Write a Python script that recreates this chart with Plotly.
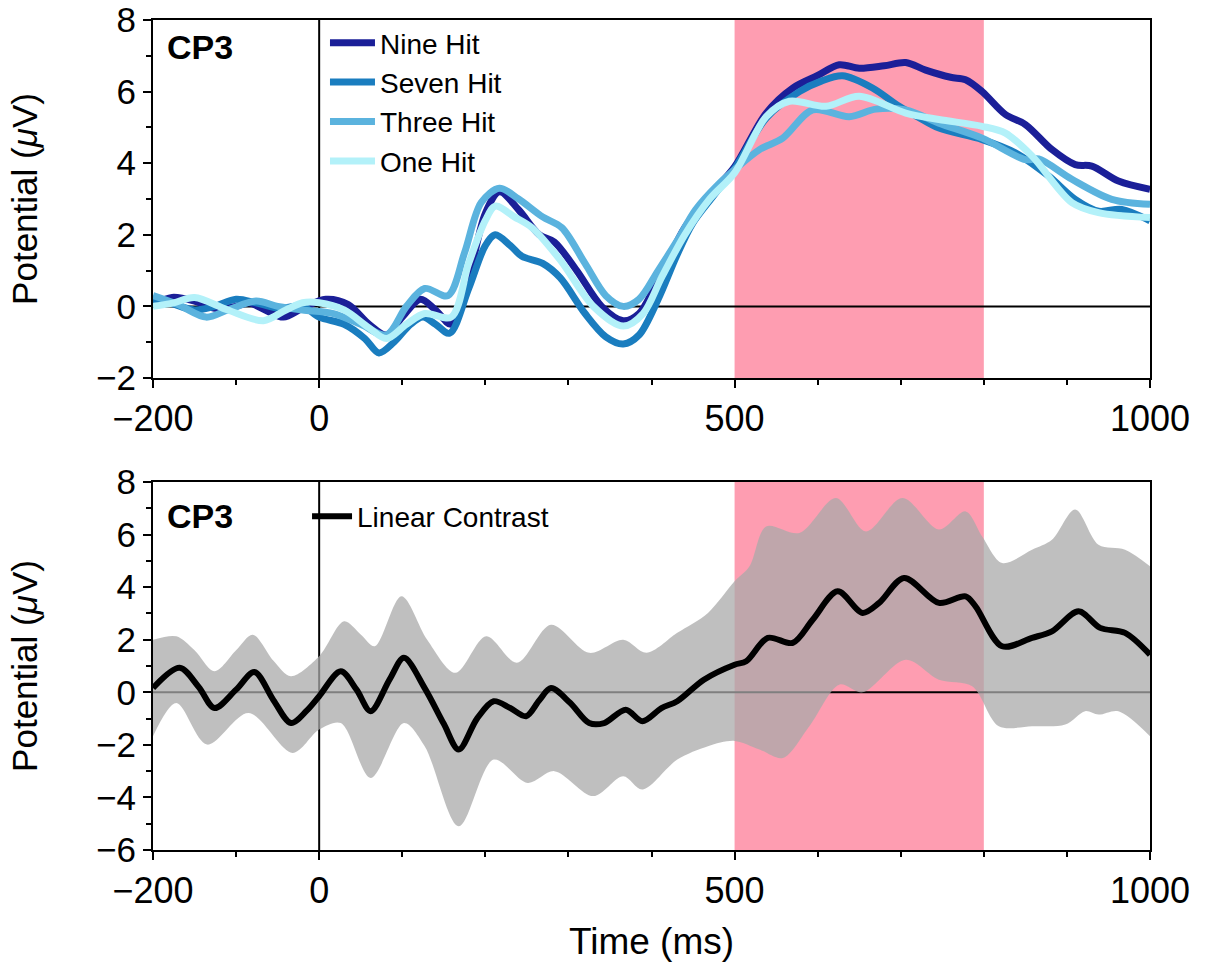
import plotly.graph_objects as go

# ---- Condition waveforms at CP3 (time in ms, potential in microvolts) ----
nine_t = [-200, -177, -150, -126, -100, -85, -65, -43, -20, 8, 35, 60, 81, 100, 122, 140, 159, 180, 200,
          217, 240, 265, 283, 310, 340, 366, 385, 403, 420, 440, 470, 500, 538, 570, 600, 626, 650, 680,
          706, 730, 760, 778, 798, 826, 850, 882, 910, 930, 962, 1000]
nine_v = [0.05, 0.25, 0.15, -0.05, 0.0, 0.1, -0.1, -0.3, -0.05, 0.2, 0.05, -0.5, -0.8, -0.3, 0.2, -0.1,
          -0.5, 0.8, 2.6, 3.2, 2.7, 2.0, 1.8, 1.0, 0.0, -0.4, -0.2, 0.5, 1.3, 2.2, 3.1, 3.9, 5.4, 6.1,
          6.45, 6.75, 6.65, 6.72, 6.81, 6.6, 6.4, 6.33, 6.0, 5.36, 5.08, 4.38, 3.96, 3.92, 3.5, 3.27]

seven_t = [-200, -180, -150, -126, -100, -76, -50, -20, 0, 30, 55, 72, 90, 110, 125, 140, 157, 180, 200,
           212, 230, 244, 269, 290, 320, 345, 366, 385, 408, 430, 449, 475, 500, 538, 578, 605, 630, 666,
           698, 720, 746, 798, 838, 878, 910, 938, 966, 1000]
seven_v = [0.2, 0.1, -0.1, 0.0, 0.2, 0.1, -0.05, 0.0, -0.3, -0.5, -0.9, -1.3, -1.0, -0.5, -0.3, -0.5,
           -0.75, 0.5, 1.7, 2.0, 1.7, 1.4, 1.2, 0.8, -0.2, -0.85, -1.05, -0.8, 0.2, 1.4, 2.3, 3.1, 3.85,
           5.26, 6.0, 6.3, 6.44, 6.1, 5.59, 5.3, 4.98, 4.66, 4.29, 3.64, 2.99, 2.66, 2.71, 2.39]

three_t = [-200, -170, -136, -110, -76, -50, -20, 17, 50, 81, 105, 127, 155, 175, 195, 217, 240, 269,
           292, 320, 345, 366, 385, 408, 430, 453, 480, 500, 530, 558, 594, 638, 670, 706, 746, 798,
           850, 866, 906, 954, 1000]
three_v = [0.3, 0.05, -0.3, -0.1, 0.15, 0.0, -0.1, -0.2, -0.5, -0.8, 0.0, 0.5, 0.3, 1.5, 2.9, 3.3, 3.0,
           2.5, 2.2, 1.2, 0.3, 0.0, 0.2, 1.0, 1.8, 2.7, 3.4, 3.82, 4.38, 4.7, 5.49, 5.3, 5.51, 5.49,
           5.12, 4.7, 4.1, 4.12, 3.55, 2.99, 2.85]

one_t = [-200, -175, -150, -110, -67, -40, -20, 0, 30, 60, 81, 105, 127, 159, 180, 200, 212, 235, 256,
         290, 330, 366, 390, 412, 440, 470, 500, 538, 566, 610, 650, 706, 746, 798, 826, 858, 906,
         938, 1000]
one_v = [0.0, 0.1, 0.25, -0.1, -0.4, -0.1, 0.1, 0.1, -0.1, -0.6, -0.9, -0.5, -0.2, -0.3, 1.2, 2.4, 2.8,
         2.5, 2.2, 1.3, 0.0, -0.55, -0.2, 0.8, 2.0, 3.0, 3.73, 5.3, 5.73, 5.59, 5.87, 5.4, 5.22, 5.03,
         4.84, 4.2, 2.9, 2.62, 2.48]

# ---- Linear contrast and its confidence band ----
lin_t = [-200, -168, -145, -126, -100, -78, -55, -34, -15, 0, 26, 45, 62, 85, 102, 127, 150, 168, 190,
         210, 230, 249, 265, 279, 302, 325, 343, 369, 389, 412, 431, 463, 500, 514, 540, 570, 594, 624,
         654, 674, 704, 746, 778, 790, 822, 858, 882, 914, 940, 970, 1000]
lin_v = [0.16, 0.93, 0.2, -0.6, 0.1, 0.77, -0.3, -1.17, -0.7, -0.15, 0.8, 0.1, -0.72, 0.5, 1.31, 0.16,
         -1.2, -2.18, -1.0, -0.34, -0.6, -0.91, -0.3, 0.16, -0.4, -1.17, -1.17, -0.66, -1.1, -0.6,
         -0.34, 0.48, 1.05, 1.18, 2.07, 1.88, 2.76, 3.84, 3.02, 3.4, 4.35, 3.4, 3.65, 3.27, 1.75, 2.07,
         2.32, 3.08, 2.45, 2.26, 1.43]

ci_hi_t = [-200, -172, -150, -126, -100, -80, -55, -34, 0, 30, 50, 67, 99, 130, 164, 201, 238, 279, 325,
           366, 394, 431, 468, 500, 518, 538, 578, 622, 658, 702, 746, 778, 798, 822, 858, 882, 910,
           938, 970, 1000]
ci_hi_v = [2.0, 2.13, 1.6, 0.8, 1.6, 2.19, 1.2, 0.61, 1.37, 2.7, 2.2, 1.75, 3.65, 2.0, 0.74, 2.13, 1.12,
           2.57, 1.5, 2.0, 1.5, 2.26, 3.02, 4.22, 4.79, 6.31, 6.06, 7.39, 6.12, 7.39, 6.19, 6.88, 5.93,
           4.92, 5.42, 5.8, 6.95, 5.61, 5.42, 4.79]

ci_lo_t = [-200, -172, -135, -85, -32, 0, 26, 62, 102, 127, 168, 210, 251, 283, 330, 366, 389, 431, 468,
           500, 530, 558, 590, 626, 654, 706, 746, 786, 818, 858, 898, 922, 938, 962, 1000]
ci_lo_v = [-1.67, -0.41, -1.99, -0.79, -2.31, -1.42, -1.17, -3.26, -1.17, -2.05, -5.1, -2.56, -3.45,
           -3.0, -3.95, -3.19, -3.7, -2.56, -2.05, -1.85, -2.18, -2.5, -1.29, 0.29, 0.0, 1.24, 0.48,
           0.23, -1.29, -1.29, -1.23, -0.72, -0.85, -0.72, -1.67]

# ---- Axis ticks and analysis window ----
x_major = [-200, 0, 500, 1000]
x_minor = [-100, 100, 200, 300, 400, 600, 700, 800, 900]
window = (500, 800)

FONT = "Liberation Sans, Arial, Helvetica, sans-serif"
PINK = "#fe9db1"

fig = go.Figure()

conditions = [
    ("Nine Hit", nine_t, nine_v, "#1b1f98"),
    ("Seven Hit", seven_t, seven_v, "#1a7dbf"),
    ("Three Hit", three_t, three_v, "#5bb3de"),
    ("One Hit", one_t, one_v, "#b3f1f9"),
]
for name, t, v, col in conditions:
    fig.add_trace(go.Scatter(
        x=t, y=v, name=name, mode="lines",
        line=dict(color=col, width=7, shape="spline", smoothing=0.9),
        xaxis="x", yaxis="y", legend="legend",
    ))

# confidence band (lower edge, then upper edge filled down to it)
fig.add_trace(go.Scatter(
    x=ci_lo_t, y=ci_lo_v, mode="lines", showlegend=False,
    line=dict(width=0, color="rgba(0,0,0,0)", shape="spline", smoothing=0.9),
    xaxis="x2", yaxis="y2", hoverinfo="skip",
))
fig.add_trace(go.Scatter(
    x=ci_hi_t, y=ci_hi_v, mode="lines", showlegend=False, fill="tonexty",
    fillcolor="rgba(170,170,170,0.75)",
    line=dict(width=0, color="rgba(0,0,0,0)", shape="spline", smoothing=0.9),
    xaxis="x2", yaxis="y2", hoverinfo="skip",
))
fig.add_trace(go.Scatter(
    x=lin_t, y=lin_v, name="Linear Contrast", mode="lines",
    line=dict(color="black", width=6, shape="spline", smoothing=0.9),
    xaxis="x2", yaxis="y2", legend="legend2",
))

# analysis window and zero reference lines, beneath the data
shapes = []
for xa, ya in (("x", "y"), ("x2", "y2")):
    shapes.append(dict(type="rect", xref=xa, yref=f"{ya} domain", x0=window[0], x1=window[1],
                       y0=0, y1=1, fillcolor=PINK, line=dict(width=0), layer="below"))
    shapes.append(dict(type="line", xref=f"{xa} domain", yref=ya, x0=0, x1=1, y0=0, y1=0,
                       line=dict(color="black", width=2), layer="below"))
    shapes.append(dict(type="line", xref=xa, yref=f"{ya} domain", x0=0, x1=0, y0=0, y1=1,
                       line=dict(color="black", width=2), layer="below"))


def xaxis_style(anchor, title=None):
    d = dict(
        anchor=anchor, domain=[0, 1], range=[-200, 1000], automargin=False,
        tickmode="array", tickvals=x_major, ticks="outside", ticklen=8, tickwidth=2,
        tickcolor="black", showline=True, linecolor="black", linewidth=2, mirror=True,
        showgrid=False, zeroline=False,
        tickfont=dict(family=FONT, size=36, color="black"),
        minor=dict(tickmode="array", tickvals=x_minor, ticks="outside", ticklen=5,
                   tickwidth=2, tickcolor="black", showgrid=False),
    )
    if title:
        d["title"] = dict(text=title, font=dict(family=FONT, size=37, color="black"), standoff=18)
    return d


def yaxis_style(anchor, domain, rng):
    return dict(
        anchor=anchor, domain=domain, range=rng, automargin=False,
        tickmode="linear", tick0=0, dtick=2, ticks="outside", ticklen=8, tickwidth=2,
        tickcolor="black", showline=True, linecolor="black", linewidth=2, mirror=True,
        showgrid=False, zeroline=False,
        tickfont=dict(family=FONT, size=35, color="black"),
        minor=dict(dtick=1, ticks="outside", ticklen=5, tickwidth=2, tickcolor="black",
                   showgrid=False),
        title=dict(text="Potential (<i>μ</i>V)", font=dict(family=FONT, size=35, color="black"),
                   standoff=48),
    )


annotations = [
    dict(text="<b>CP3</b>", xref="x domain", yref="y domain", x=0.012, y=0.925,
         xanchor="left", yanchor="middle", showarrow=False,
         font=dict(family=FONT, size=34, color="black")),
    dict(text="<b>CP3</b>", xref="x2 domain", yref="y2 domain", x=0.012, y=0.908,
         xanchor="left", yanchor="middle", showarrow=False,
         font=dict(family=FONT, size=34, color="black")),
]

fig.update_layout(
    width=1211, height=965,
    margin=dict(l=153, r=61, t=20, b=115, autoexpand=False),
    paper_bgcolor="white", plot_bgcolor="white",
    font=dict(family=FONT, color="black"),
    xaxis=xaxis_style("y"),
    yaxis=yaxis_style("x", [0.5687, 1.0], [-2, 8]),
    xaxis2=xaxis_style("y2", "Time (ms)"),
    yaxis2=yaxis_style("x2", [0.0, 0.4434], [-6, 8]),
    shapes=shapes,
    annotations=annotations,
    legend=dict(x=0.1725, y=1.0024, xanchor="left", yanchor="top", bgcolor="rgba(0,0,0,0)",
                traceorder="normal", itemwidth=45,
                font=dict(family=FONT, size=28, color="black"), tracegroupgap=0),
    legend2=dict(x=0.1545, y=0.432, xanchor="left", yanchor="top", traceorder="normal",
                 itemwidth=40, bgcolor="rgba(0,0,0,0)",
                 font=dict(family=FONT, size=28, color="black")),
    showlegend=True,
)

fig.write_html("out.html")
